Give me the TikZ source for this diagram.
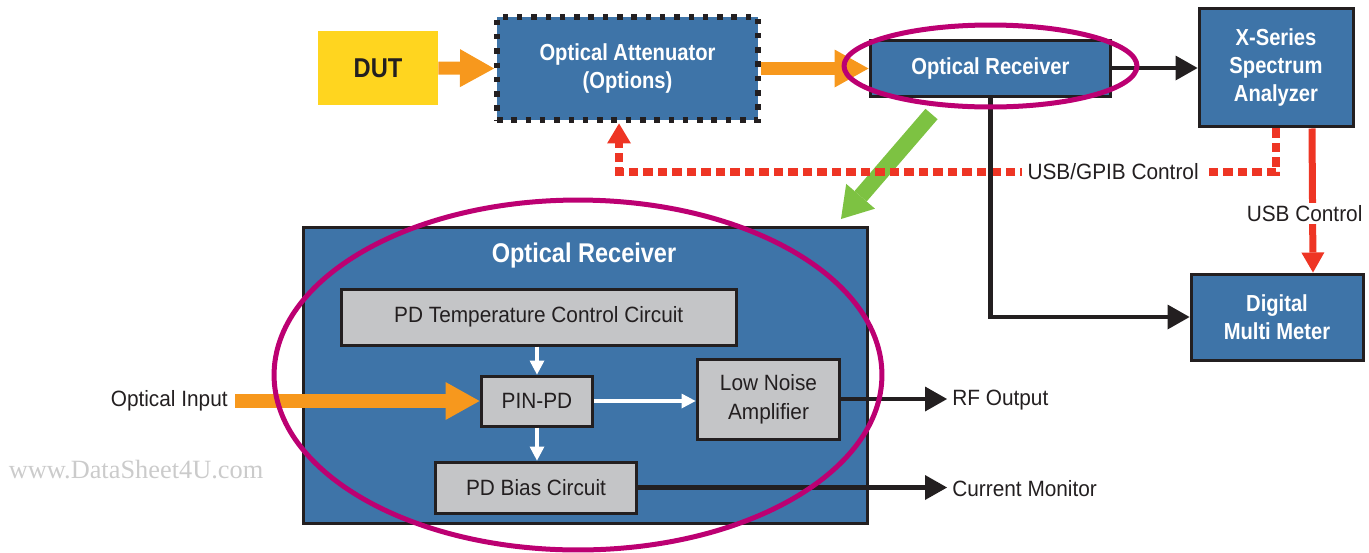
\documentclass[tikz,border=0pt]{standalone}
\usepackage{fontspec}
\setmainfont{Liberation Sans}[FakeStretch=0.94]
\newfontfamily\headfont{Liberation Sans}[FakeStretch=0.87]
\newfontfamily\markfont{Liberation Serif}
\usetikzlibrary{arrows.meta}
\usetikzlibrary{calc}

\definecolor{boxblue}{HTML}{3E74A8}
\definecolor{dutyellow}{HTML}{FFD51F}
\definecolor{optorange}{HTML}{F7981D}
\definecolor{ringmag}{HTML}{BC0072}
\definecolor{ctrlred}{HTML}{EE3524}
\definecolor{fibgreen}{HTML}{7DC242}
\definecolor{partgray}{HTML}{C4C5C7}
\definecolor{inkblack}{HTML}{231F20}
\definecolor{wmgray}{HTML}{CBCBCB}

\begin{document}
\begin{tikzpicture}[x=0.02cm,y=-0.02cm,
    unit/.style={draw=inkblack,line width=0.06cm,fill=boxblue,text=white,align=center,
        font=\headfont\bfseries\fontsize{13.2}{16.2}\selectfont},
    part/.style={draw=inkblack,line width=0.06cm,fill=partgray,text=inkblack,align=center,
        font=\fontsize{12.6}{16.4}\selectfont},
    lbl/.style={text=inkblack,font=\fontsize{12.6}{15}\selectfont},
    optic/.style={optorange,line width=0.26cm,-{Triangle[length=0.68cm,width=0.76cm,line width=0pt]}},
    wire/.style={inkblack,line width=0.09cm,-{Triangle[length=0.44cm,width=0.5cm,line width=0pt]}},
    inwire/.style={white,line width=0.07cm,-{Triangle[length=0.28cm,width=0.3cm,line width=0pt]}},
    ring/.style={ringmag,line width=0.1cm}]
    \useasboundingbox (0,0) rectangle (1369,552);

    \node[text=wmgray,font=\markfont\fontsize{15}{18}\selectfont] (wm) at (136,470) {www.DataSheet4U.com};

    \node[fill=dutyellow,minimum width=2.4cm,minimum height=1.48cm,text=inkblack,
        font=\headfont\bfseries\fontsize{15.5}{18}\selectfont] (dut) at (378,68) {DUT};
    \node[unit,line width=0.12cm,dash pattern=on 0.11cm off 0.176cm,minimum width=5.22cm,
        minimum height=2.08cm] (atten) at (627.5,68.5) {Optical Attenuator\\(Options)};
    \node[unit,minimum width=4.82cm,minimum height=1.12cm] (rxs) at (990.5,68) {Optical Receiver};
    \node[unit,minimum width=3.08cm,minimum height=2.38cm] (xsa) at (1276,67.5) {X-Series\\Spectrum\\Analyzer};
    \node[unit,minimum width=3.44cm,minimum height=1.72cm] (dmm) at (1277,317) {Digital\\Multi Meter};

    \node[unit,minimum width=11.3cm,minimum height=5.94cm] (rx) at (585.5,375.5) {};
    \node[text=white,font=\headfont\bfseries\fontsize{15.4}{18}\selectfont] (rxtitle) at (584,255) {Optical Receiver};
    \node[part,minimum width=7.91cm,minimum height=1.12cm] (tcc) at (538.75,317) {PD Temperature Control Circuit};
    \node[part,minimum width=2.24cm,minimum height=1cm] (pin) at (537,401) {PIN-PD};
    \node[part,minimum width=2.86cm,minimum height=1.6cm] (lna) at (768.5,399) {Low Noise\\Amplifier};
    \node[part,minimum width=4.04cm,minimum height=1.02cm] (bias) at (536,487.5) {PD Bias Circuit};

    \node[lbl,anchor=east,inner xsep=0.14cm,inner ysep=0pt] (inp) at (235,401) {Optical Input};
    \node[lbl,anchor=west,inner xsep=0.1cm] (rfout) at (947,400) {RF Output};
    \node[lbl,anchor=west,inner xsep=0.1cm] (curmon) at (947,489) {Current Monitor};

    \coordinate (gtail) at (931.5,114);
    \coordinate (gtip) at (841,219);
    \coordinate (gpib) at (619,172);

    \draw[fibgreen,line width=0.32cm,-{Triangle[length=0.6cm,width=0.76cm,line width=0pt]}] (gtail) -- (gtip);

    \draw[optic] (dut.east) -- (atten.west);
    \draw[optic] (atten.east) -- (atten.east -| rxs.west);
    \draw[optic,line width=0.28cm] (inp.east) -- (pin.west);

    \draw[ctrlred,line width=0.16cm,dash pattern=on 0.19cm off 0.1cm,
        -{Triangle[length=0.4cm,width=0.48cm,line width=0pt]}]
        (xsa.south) |- node[pos=0.624,lbl,fill=white,inner xsep=0.12cm,inner ysep=0.02cm] {USB/GPIB Control}
        (gpib) -- (gpib |- atten.south);
    \draw[ctrlred,line width=0.14cm,-{Triangle[length=0.4cm,width=0.46cm,line width=0pt]}]
        ([xshift=0.72cm]xsa.south) -- node[pos=0.59,lbl,fill=white,inner xsep=0pt,inner ysep=0.04cm,xshift=-0.16cm] {USB Control}
        ([xshift=0.72cm]dmm.north);

    \draw[wire] (rxs.east) -- (rxs.east -| xsa.west);
    \draw[wire,line join=miter] (rxs.south) |- (dmm.west);
    \draw[wire] (lna.east) -- (lna.east -| rfout.west);
    \draw[wire] (bias.east) -- (bias.east -| curmon.west);

    \draw[inwire] (pin.north |- tcc.south) -- (pin.north);
    \draw[inwire] (pin.south) -- (pin.south |- bias.north);
    \draw[inwire] (pin.east) -- (pin.east -| lna.west);

    \draw[ring] (990.5,66) ellipse [x radius=2.93cm,y radius=0.82cm];
    \draw[ring] (578,375) ellipse [x radius=6.08cm,y radius=3.5cm];
\end{tikzpicture}
\end{document}
